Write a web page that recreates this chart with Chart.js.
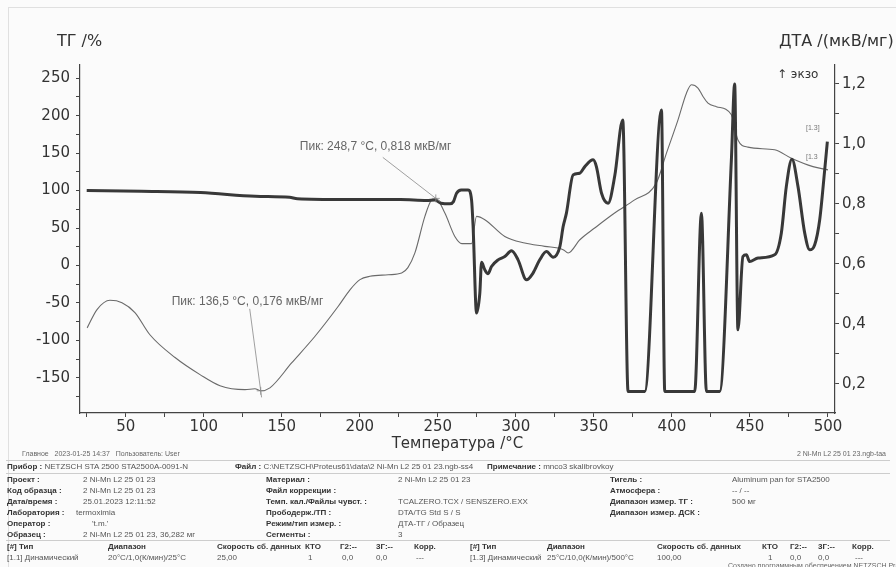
<!DOCTYPE html>
<html lang="ru">
<head>
<meta charset="utf-8">
<title>ТГ / ДТА — 2 Ni-Mn L2 25 01 23</title>
<script src="https://cdn.jsdelivr.net/npm/chart.js@4.4.1/dist/chart.umd.min.js"></script>
<style>
  html, body { margin: 0; padding: 0; background: #fbfbfb; }
  #page { position: relative; width: 896px; height: 567px; overflow: hidden; }
  #page canvas { position: absolute; left: 0; top: 0; }
  .scan { position: absolute; left: 8px; top: 7px; width: 900px; height: 600px; border-top: 1px solid #e0e0e0; border-left: 1px solid #e0e0e0; }
  .f { position: absolute; white-space: nowrap; font-family: 'Liberation Sans', Arial, sans-serif; font-size: 8px; line-height: 10px; color: #555; }
  .f b { color: #333; }
  .s { font-size: 7px; color: #666; }
  .ln { position: absolute; left: 6px; width: 884px; height: 0; border-top: 1px solid #cdcdcd; }
</style>
</head>
<body>
<div id="page">
  <div class="scan"></div>
  <canvas id="thermoChart" width="896" height="453"></canvas>

  <!-- шапка протокола -->
  <div class="f s" style="left:22px;top:449px">Главное &nbsp; 2023-01-25 14:37 &nbsp; Пользователь: User</div>
  <div class="f s" style="right:10px;top:449px">2 Ni-Mn L2 25 01 23.ngb-taa</div>
  <div class="ln" style="top:460px"></div>
  <div class="f" style="left:7px;top:462px"><b>Прибор :</b> NETZSCH STA 2500 STA2500A-0091-N</div>
  <div class="f" style="left:235px;top:462px"><b>Файл :</b> C:\NETZSCH\Proteus61\data\2 Ni-Mn L2 25 01 23.ngb-ss4</div>
  <div class="f" style="left:487px;top:462px"><b>Примечание :</b> mnco3 skalibrovkoy</div>
  <div class="ln" style="top:473px"></div>

  <div class="f" style="left:7px;top:475px"><b>Проект :</b></div>
  <div class="f" style="left:83px;top:475px">2 Ni-Mn L2 25 01 23</div>
  <div class="f" style="left:7px;top:486px"><b>Код образца :</b></div>
  <div class="f" style="left:83px;top:486px">2 Ni-Mn L2 25 01 23</div>
  <div class="f" style="left:7px;top:497px"><b>Дата/время :</b></div>
  <div class="f" style="left:83px;top:497px">25.01.2023 12:11:52</div>
  <div class="f" style="left:7px;top:508px"><b>Лаборатория :</b></div>
  <div class="f" style="left:76px;top:508px">termoximia</div>
  <div class="f" style="left:7px;top:519px"><b>Оператор :</b></div>
  <div class="f" style="left:92px;top:519px">'t.m.'</div>
  <div class="f" style="left:7px;top:530px"><b>Образец :</b></div>
  <div class="f" style="left:83px;top:530px">2 Ni-Mn L2 25 01 23, 36,282 мг</div>

  <div class="f" style="left:266px;top:475px"><b>Материал :</b></div>
  <div class="f" style="left:398px;top:475px">2 Ni-Mn L2 25 01 23</div>
  <div class="f" style="left:266px;top:486px"><b>Файл коррекции :</b></div>
  <div class="f" style="left:266px;top:497px"><b>Темп. кал./Файлы чувст. :</b></div>
  <div class="f" style="left:398px;top:497px">TCALZERO.TCX / SENSZERO.EXX</div>
  <div class="f" style="left:266px;top:508px"><b>Прободерж./ТП :</b></div>
  <div class="f" style="left:398px;top:508px">DTA/TG Std S / S</div>
  <div class="f" style="left:266px;top:519px"><b>Режим/тип измер. :</b></div>
  <div class="f" style="left:398px;top:519px">ДТА-ТГ / Образец</div>
  <div class="f" style="left:266px;top:530px"><b>Сегменты :</b></div>
  <div class="f" style="left:398px;top:530px">3</div>

  <div class="f" style="left:610px;top:475px"><b>Тигель :</b></div>
  <div class="f" style="left:732px;top:475px">Aluminum pan for STA2500</div>
  <div class="f" style="left:610px;top:486px"><b>Атмосфера :</b></div>
  <div class="f" style="left:732px;top:486px">-- / --</div>
  <div class="f" style="left:610px;top:497px"><b>Диапазон измер. ТГ :</b></div>
  <div class="f" style="left:732px;top:497px">500 мг</div>
  <div class="f" style="left:610px;top:508px"><b>Диапазон измер. ДСК :</b></div>
  <div class="ln" style="top:540px"></div>

  <!-- сегменты -->
  <div class="f" style="left:7px;top:542px"><b>[#] Тип</b></div>
  <div class="f" style="left:108px;top:542px"><b>Диапазон</b></div>
  <div class="f" style="left:217px;top:542px"><b>Скорость сб. данных</b></div>
  <div class="f" style="left:305px;top:542px"><b>КТО</b></div>
  <div class="f" style="left:340px;top:542px"><b>Г2:--</b></div>
  <div class="f" style="left:376px;top:542px"><b>3Г:--</b></div>
  <div class="f" style="left:414px;top:542px"><b>Корр.</b></div>
  <div class="f" style="left:7px;top:553px">[1.1] Динамический</div>
  <div class="f" style="left:108px;top:553px">20°C/1,0(К/мин)/25°C</div>
  <div class="f" style="left:217px;top:553px">25,00</div>
  <div class="f" style="left:308px;top:553px">1</div>
  <div class="f" style="left:342px;top:553px">0,0</div>
  <div class="f" style="left:376px;top:553px">0,0</div>
  <div class="f" style="left:416px;top:553px">---</div>

  <div class="f" style="left:470px;top:542px"><b>[#] Тип</b></div>
  <div class="f" style="left:547px;top:542px"><b>Диапазон</b></div>
  <div class="f" style="left:657px;top:542px"><b>Скорость сб. данных</b></div>
  <div class="f" style="left:762px;top:542px"><b>КТО</b></div>
  <div class="f" style="left:790px;top:542px"><b>Г2:--</b></div>
  <div class="f" style="left:818px;top:542px"><b>3Г:--</b></div>
  <div class="f" style="left:852px;top:542px"><b>Корр.</b></div>
  <div class="f" style="left:470px;top:553px">[1.3] Динамический</div>
  <div class="f" style="left:547px;top:553px">25°C/10,0(К/мин)/500°C</div>
  <div class="f" style="left:657px;top:553px">100,00</div>
  <div class="f" style="left:768px;top:553px">1</div>
  <div class="f" style="left:790px;top:553px">0,0</div>
  <div class="f" style="left:818px;top:553px">0,0</div>
  <div class="f" style="left:855px;top:553px">---</div>
  <div class="f s" style="left:728px;top:561px">Создано программным обеспечением NETZSCH Proteus</div>
</div>

<script>
// ТГ, % (толстая линия, левая ось)
const tgTemp = [25, 60, 98, 133, 155, 160, 190, 226, 243, 248, 252, 257.7, 260, 262, 265, 269.4, 271.6, 272.6,
  274.8, 276.9, 278, 280.1, 282.2, 284.4, 288.6, 292.9, 297.2, 301.4, 306.8, 311, 315.3, 319.6, 323.9, 328.2,
  330.3, 332.4, 336.7, 340.9, 344.2, 349.5, 351.6, 354.9, 359.1, 363.4, 368.5, 371.9, 382.6, 393.3, 395.4,
  414.6, 418.9, 422.1, 430.6, 438.1, 440.2, 442.3, 445.5, 447.7, 449.8, 455.2, 465.8, 470.1, 473.3, 476.9,
  480.8, 485.1, 488.3, 491.5, 494.7, 497.9, 499.6];
const tgVal = [100, 99, 97.3, 92.5, 91, 89, 88, 88, 86.7, 87.6, 83.2, 82.3, 85.3, 96.5, 100.9, 100.9, 87.6, 52,
  -63.5, -36.8, 4.3, -5.7, -11, -1.3, 7.6, 12, 19.6, 7.6, -19.1, -10.1, 7.6, 18.7, 11, 25.3,
  52, 69.9, 121, 123.2, 132, 141, 132, 96.5, 83.2, 120, 194.3, -168, -168, 207.6, -168,
  -168, 69.9, -168, -168, 141, 242.3, -85.7, 12, 14.3, 5.3, 9.9, 14.3, 43.2, 105.3, 141.9,
  105.3, 43.2, 20.9, 27.6, 61, 127.6, 165.3];

// ДТА, мкВ/мг (тонкая линия, правая ось)
const dtaTemp = [25.3, 31.6, 39.9, 47.6, 55.9, 65.5, 81.6, 97.6, 110.4, 126.4, 132.8, 136.5, 142.4, 156.3,
  171.3, 186.2, 193.7, 200.1, 206.5, 218.2, 226.8, 230.8, 235.3, 241.7, 246, 248.7, 254.5, 260.9, 265.4,
  271.6, 274.8, 280.1, 292.9, 305.7, 318.5, 330.3, 333.5, 341, 350.5, 363.3, 376.1, 390, 396.5, 403.9,
  409.3, 412.5, 416.7, 419.9, 423.1, 428.5, 438.1, 442.3, 448.7, 465.8, 476.5, 490.4, 500];
const dtaVal = [0.386, 0.447, 0.478, 0.47, 0.437, 0.363, 0.287, 0.23, 0.193, 0.18, 0.183, 0.176, 0.186, 0.269,
  0.358, 0.458, 0.513, 0.547, 0.558, 0.563, 0.569, 0.587, 0.636, 0.758, 0.813, 0.818, 0.769, 0.691, 0.667,
  0.667, 0.758, 0.747, 0.691, 0.669, 0.658, 0.647, 0.636, 0.68, 0.719, 0.769, 0.813, 0.869, 0.969, 1.08,
  1.169, 1.197, 1.186, 1.158, 1.136, 1.124, 1.097, 1.013, 0.989, 0.98, 0.952, 0.924, 0.913];

// отмеченные пики ДТА
const peakTemp = [136.5, 248.7];
const peakDta = [0.176, 0.818];
// куда вынесена подпись пика (смещение от точки, px)
const peakLabelShift = [[-89, -89], [-136, -52]];
const peakLeaderShift = [[-11, -82], [-53, -41]];

const comma = (v, d) => v.toFixed(d).replace('.', ',');

const overlay = {
    id: 'overlay',
    afterDraw(chart) {
        const { ctx, scales } = chart;
        ctx.save();
        ctx.textBaseline = 'middle';
        ctx.fillStyle = '#333';
        ctx.font = '16px "DejaVu Sans"';
        ctx.fillText('ТГ /%', 57, 42);
        ctx.fillText('ДТА /(мкВ/мг)', 779, 42);
        ctx.font = '12px "DejaVu Sans"';
        ctx.fillText('↑ экзо', 777, 75);
        ctx.fillStyle = '#777';
        ctx.font = '7px "Liberation Sans"';
        ctx.fillText('[1.3]', 806, 128);
        ctx.fillText('[1.3', 806, 157);

        // пики: крестик, выноска, подпись
        ctx.strokeStyle = '#888';
        ctx.lineWidth = 0.8;
        ctx.font = '12px "Liberation Sans"';
        ctx.fillStyle = '#666';
        peakTemp.forEach((t, i) => {
            const px = scales.x.getPixelForValue(t);
            const py = scales.yDTA.getPixelForValue(peakDta[i]);
            const [lx, ly] = peakLeaderShift[i];
            ctx.beginPath();
            ctx.moveTo(px + lx, py + ly);
            ctx.lineTo(px - lx * 0.08, py - ly * 0.08);
            ctx.moveTo(px - 4, py); ctx.lineTo(px + 4, py);
            ctx.moveTo(px, py - 4); ctx.lineTo(px, py + 4);
            ctx.stroke();
            const [sx, sy] = peakLabelShift[i];
            ctx.fillText('Пик: ' + comma(t, 1) + ' °C, ' + comma(peakDta[i], 3) + ' мкВ/мг', px + sx, py + sy);
        });
        ctx.restore();
    }
};

const tickFont = { family: 'DejaVu Sans', size: 15 };

const ctx = document.getElementById('thermoChart').getContext('2d');
const thermoChart = new Chart(ctx, {
    type: 'line',
    data: {
        datasets: [
            {
                label: 'ТГ',
                data: tgTemp.map((t, i) => ({ x: t, y: tgVal[i] })),
                yAxisID: 'yTG',
                borderColor: '#383838',
                borderWidth: 3,
                pointRadius: 0,
                cubicInterpolationMode: 'monotone',
            },
            {
                label: 'ДТА',
                data: dtaTemp.map((t, i) => ({ x: t, y: dtaVal[i] })),
                yAxisID: 'yDTA',
                borderColor: '#6a6a6a',
                borderWidth: 1.1,
                pointRadius: 0,
                cubicInterpolationMode: 'monotone',
            },
        ],
    },
    options: {
        responsive: false,
        animation: false,
        devicePixelRatio: 1,
        layout: { padding: { top: 65, left: 0, right: 0, bottom: 0 } },
        plugins: {
            legend: { display: false },
            tooltip: { enabled: false },
        },
        scales: {
            x: {
                type: 'linear',
                min: 20.7,
                max: 504.5,
                afterFit: (s) => { s.height = 40; },
                border: { color: '#444', width: 1.2 },
                grid: { drawOnChartArea: false, tickLength: 4, color: '#444' },
                ticks: {
                    stepSize: 25,
                    includeBounds: false,
                    autoSkip: false,
                    maxRotation: 0,
                    padding: 1,
                    color: '#333',
                    font: tickFont,
                    callback: (v) => (v % 50 === 0 ? String(v) : ''),
                },
                title: {
                    display: true,
                    text: 'Температура /°C',
                    color: '#333',
                    font: { family: 'DejaVu Sans', size: 15 },
                    padding: 0,
                },
            },
            yTG: {
                position: 'left',
                min: -196.8,
                max: 267.6,
                afterFit: (s) => { s.width = 80; },
                border: { color: '#444', width: 1.2 },
                grid: { drawOnChartArea: false, tickLength: 4, color: '#444' },
                ticks: {
                    stepSize: 25,
                    includeBounds: false,
                    autoSkip: false,
                    padding: 6,
                    color: '#333',
                    font: tickFont,
                    callback: (v) => (v % 50 === 0 ? String(v) : ''),
                },
            },
            yDTA: {
                position: 'right',
                min: 0.102,
                max: 1.263,
                afterFit: (s) => { s.width = 61; },
                border: { color: '#444', width: 1.2 },
                grid: { drawOnChartArea: false, tickLength: 4, color: '#444' },
                ticks: {
                    stepSize: 0.1,
                    includeBounds: false,
                    autoSkip: false,
                    padding: 3,
                    color: '#333',
                    font: tickFont,
                    callback: (v) => {
                        const k = Math.round(v * 10);
                        return k % 2 === 0 ? comma(k / 10, 1) : '';
                    },
                },
            },
        },
    },
    plugins: [overlay],
});
</script>
</body>
</html>
